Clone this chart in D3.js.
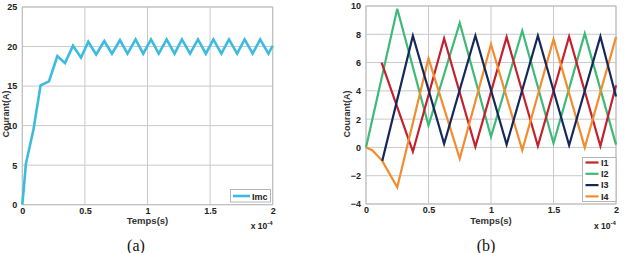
<!DOCTYPE html>
<html><head><meta charset="utf-8">
<script src="https://cdn.jsdelivr.net/npm/d3@7"></script>
<style>body{margin:0;background:#fff}svg{display:block}</style>
</head><body><svg id="c" width="627" height="253" font-family="Liberation Sans, Arial, sans-serif"></svg>
<script>
// ---- Data (time in units of 1e-4 s) ----
const imcT = [0,0.013,0.029,0.088,0.146,0.213,0.28,0.341,0.405,0.469,0.527,0.59,0.655,0.716,0.78,0.84,0.905,0.966,1.028,1.09,1.153,1.216,1.275,1.34,1.403,1.466,1.526,1.59,1.651,1.716,1.776,1.84,1.90,1.966,2.0];
const imcV = [0,2.3,5.2,9.4,15.1,15.6,18.8,17.9,20.1,18.6,20.6,19.0,20.7,19.1,20.8,19.1,20.9,19.1,20.9,19.1,20.9,19.1,20.9,19.1,20.9,19.1,20.9,19.1,20.9,19.1,20.9,19.1,20.9,19.1,20.1];

const i1T = [0.125,0.375,0.625,0.875,1.125,1.375,1.625,1.875,2.0];
const i1V = [6.0,-0.3,7.7,0.05,7.8,0.1,7.85,0.1,4.4];
const i2T = [0,0.25,0.5,0.75,1.0,1.25,1.5,1.75,2.0];
const i2V = [0,9.8,1.55,8.8,0.75,8.25,0.3,8.05,0.2];
const i3T = [0.13,0.375,0.625,0.875,1.125,1.375,1.625,1.875,2.0];
const i3V = [-0.95,7.9,0.25,7.9,0.2,7.9,0.15,7.85,3.6];
const i4T = [0,0.05,0.13,0.25,0.5,0.75,1.0,1.25,1.5,1.75,2.0];
const i4V = [0,-0.2,-0.95,-2.82,6.3,-0.78,7.3,-0.2,7.65,0.0,7.8];

const xTicks = [0,0.5,1,1.5,2];
const yTicksA = [0,5,10,15,20,25];
const yTicksB = [-4,-2,0,2,4,6,8,10];
const seriesB = [
  {name:"I1", t:i1T, v:i1V, color:"#c4202e"},
  {name:"I2", t:i2T, v:i2V, color:"#3dba78"},
  {name:"I3", t:i3T, v:i3V, color:"#15285a"},
  {name:"I4", t:i4T, v:i4V, color:"#f28c2e"}
];
const drawOrder = [1,0,3,2];

const svg = d3.select("#c");

function panel(opt){
  const g = svg.append("g");
  const x = d3.scaleLinear().domain([0,2]).range([opt.x0,opt.x1]);
  const y = d3.scaleLinear().domain(opt.yDom).range([opt.y0,opt.y1]);
  g.append("g").selectAll("line").data(xTicks).join("line")
    .attr("x1",d=>x(d)).attr("x2",d=>x(d)).attr("y1",opt.y0).attr("y2",opt.y1)
    .attr("stroke","#c9c9c9").attr("stroke-width",1);
  g.append("g").selectAll("line").data(opt.yTicks).join("line")
    .attr("y1",d=>y(d)).attr("y2",d=>y(d)).attr("x1",opt.x0).attr("x2",opt.x1)
    .attr("stroke","#c9c9c9").attr("stroke-width",1);
  g.append("rect").attr("x",opt.x0).attr("y",opt.y1).attr("width",opt.x1-opt.x0).attr("height",opt.y0-opt.y1)
    .attr("fill","none").attr("stroke","#bdbdbd");
  const ax = g.append("g").attr("transform",`translate(0,${opt.y0})`)
    .call(d3.axisBottom(x).tickValues(xTicks).tickFormat(d3.format("")).tickSize(0).tickPadding(3));
  ax.select(".domain").remove();
  ax.selectAll("text").style("font-family","Liberation Sans, Arial").style("font-size","9px").style("font-weight","bold").attr("fill","#222");
  const ay = g.append("g").attr("transform",`translate(${opt.x0},0)`)
    .call(d3.axisLeft(y).tickValues(opt.yTicks).tickFormat(d3.format("")).tickSize(0).tickPadding(5));
  ay.select(".domain").remove();
  ay.selectAll("text").style("font-family","Liberation Sans, Arial").style("font-size","9px").style("font-weight","bold").attr("fill","#222");
  g.append("text").attr("x",(opt.x0+opt.x1)/2).attr("y",224).attr("text-anchor","middle")
    .attr("font-size",9.5).attr("font-weight","bold").attr("fill","#333").text("Temps(s)");
  const ex = g.append("text").attr("x",opt.x1-22).attr("y",229).attr("font-size",8.5).attr("font-weight","bold").attr("fill","#222");
  ex.append("tspan").text("x 10");
  ex.append("tspan").attr("dy",-4).attr("font-size",6).text("-4");
  g.append("text").attr("transform",`translate(${opt.ylx},114) rotate(-90)`).attr("text-anchor","middle")
    .attr("font-size",9).attr("font-weight","bold").attr("fill","#333").text("Courant(A)");
  g.append("text").attr("x",opt.capx).attr("y",251).attr("text-anchor","middle")
    .style("font-family","'Liberation Serif', 'Times New Roman', serif").attr("font-size",16).attr("fill","#111").text(opt.cap);
  return {g,x,y};
}

const A = panel({x0:22.3,x1:272.7,y0:204.7,y1:7,yDom:[0,25],yTicks:yTicksA,ylx:8.5,capx:136,cap:"(a)"});
const lineA = d3.line().x((d,i)=>A.x(imcT[i])).y(d=>A.y(d));
A.g.append("path").datum(imcV).attr("d",lineA).attr("fill","none").attr("stroke","#3bbbe0")
  .attr("stroke-width",2.6).attr("stroke-linejoin","miter");
const la = A.g.append("g");
la.append("rect").attr("x",230.5).attr("y",189.5).attr("width",40).attr("height",12.5).attr("fill","#fff").attr("stroke","#b5b5b5");
la.append("line").attr("x1",233).attr("x2",250).attr("y1",196).attr("y2",196).attr("stroke","#3bbbe0").attr("stroke-width",2.6);
la.append("text").attr("x",252).attr("y",199.5).attr("font-size",9).attr("font-weight","bold").attr("fill","#222").text("Imc");

const B = panel({x0:366,x1:616,y0:204,y1:6,yDom:[-4,10],yTicks:yTicksB,ylx:350,capx:486,cap:"(b)"});
drawOrder.forEach(k=>{
  const s = seriesB[k];
  const ln = d3.line().x((d,i)=>B.x(s.t[i])).y(d=>B.y(d));
  B.g.append("path").datum(s.v).attr("d",ln).attr("fill","none").attr("stroke",s.color)
    .attr("stroke-width",2.2).attr("stroke-linejoin","miter");
});
const lb = B.g.append("g");
lb.append("rect").attr("x",582.5).attr("y",157.5).attr("width",33.5).attr("height",44).attr("fill","#fff").attr("stroke","#b5b5b5");
seriesB.forEach((s,i)=>{
  const yy = 162.5 + i*11.3;
  lb.append("line").attr("x1",585.5).attr("x2",598.5).attr("y1",yy).attr("y2",yy).attr("stroke",s.color).attr("stroke-width",2.2);
  lb.append("text").attr("x",601).attr("y",yy+3.3).attr("font-size",9).attr("font-weight","bold").attr("fill","#222").text(s.name);
});
</script></body></html>
